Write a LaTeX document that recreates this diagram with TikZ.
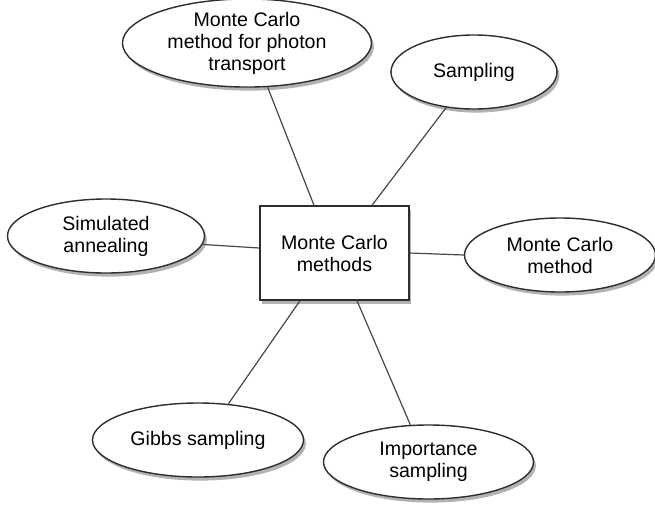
\documentclass[tikz,border=0pt]{standalone}
\usepackage{fontspec}
\setmainfont{Liberation Sans}
\usetikzlibrary{shapes.geometric,shadows}
\definecolor{edgegray}{HTML}{2E2E2E}
\definecolor{linegray}{HTML}{474747}

\begin{document}
\begin{tikzpicture}[
		x=0.5pt, y=-0.5pt,
		font=\fontsize{9.8}{11}\selectfont,
		topic/.style={ellipse, draw=edgegray, fill=white, line width=0.7pt,
				align=center, inner sep=0pt, minimum width=#1, minimum height=37pt,
				drop shadow={shadow xshift=1.2pt, shadow yshift=-1.8pt,
						fill=black, opacity=0.3}},
		hub/.style={rectangle, draw=edgegray, fill=white, line width=0.7pt,
				align=center, minimum width=74.5pt, minimum height=47pt,
				drop shadow={shadow xshift=1.2pt, shadow yshift=-1.8pt,
						fill=black, opacity=0.3}},
		link/.style={draw=linegray, line width=0.6pt},
	]
	\useasboundingbox (0,0) rectangle (655,505);

	\node[hub] (mc) at (334.5,253) {Monte Carlo\\methods};

	\node[topic=124.5pt, minimum height=38pt] (photon) at (247,43)
	{Monte Carlo\\method for photon\\transport};
	\node[topic=83pt] (sampl) at (474,72) {Sampling};
	\node[topic=98.5pt] (anneal) at (106,236) {Simulated\\annealing};
	\node[topic=95.5pt] (mcm) at (560,255) {Monte Carlo\\method};
	\node[topic=105.5pt] (gibbs) at (198,440) {Gibbs sampling};
	\node[topic=105pt] (importance) at (428.5,462) {Importance\\sampling};

	\draw[link] (photon.-65) -- ([xshift=-10.25pt]mc.north);
	\draw[link] (sampl.-128) -- ([xshift=18.75pt]mc.north);
	\draw[link] (anneal.-5) -- ([yshift=2.5pt]mc.west);
	\draw[link] (mc.east) -- (mcm.west);
	\draw[link] (gibbs.50) -- ([xshift=-17.25pt]mc.south);
	\draw[link] (importance.116) -- ([xshift=11.25pt]mc.south);

\end{tikzpicture}
\end{document}
